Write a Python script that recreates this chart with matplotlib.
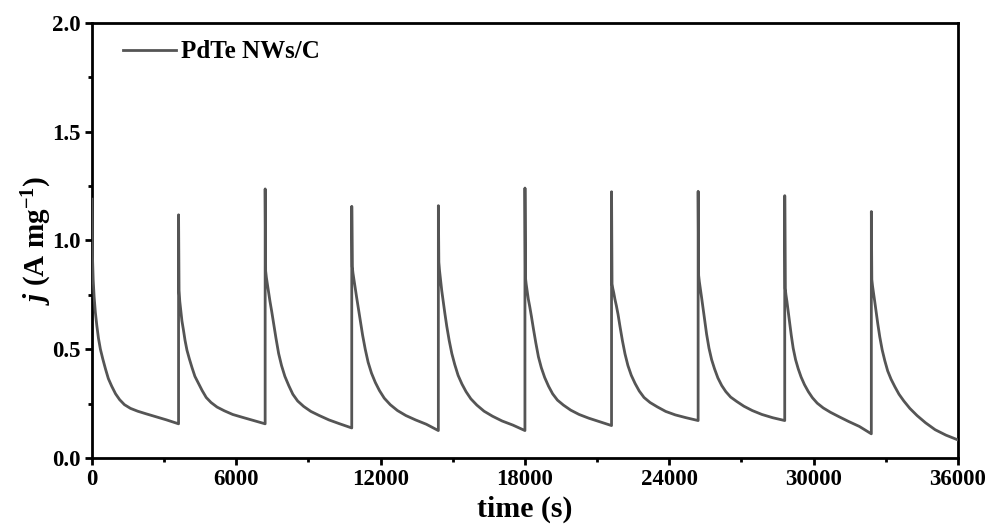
import numpy as np
import matplotlib
matplotlib.use("Agg")
import matplotlib.pyplot as plt
from matplotlib.ticker import MultipleLocator

# ---- data ----
cycle_starts = [0, 3600, 7200, 10800, 14400, 18000, 21600, 25200, 28800, 32400]
rel_t = [0, 20, 50, 90, 140, 200, 270, 350, 450, 560, 680, 820, 980, 1150,
         1350, 1600, 1900, 2250, 2650, 3100, 3599]

c1 = [1.190, 0.93, 0.82, 0.74, 0.67, 0.61, 0.55, 0.50, 0.455, 0.41, 0.365,
      0.33, 0.295, 0.268, 0.245, 0.228, 0.215, 0.203, 0.190, 0.175, 0.157]
c2 = [1.118, 0.77, 0.72, 0.68, 0.63, 0.59, 0.54, 0.495, 0.455, 0.415, 0.375,
      0.345, 0.31, 0.278, 0.255, 0.234, 0.217, 0.200, 0.187, 0.173, 0.157]
c3 = [1.237, 0.86, 0.83, 0.80, 0.76, 0.72, 0.675, 0.62, 0.55, 0.48, 0.425,
      0.375, 0.333, 0.293, 0.262, 0.237, 0.214, 0.195, 0.175, 0.157, 0.138]
c4 = [1.157, 0.88, 0.85, 0.82, 0.78, 0.74, 0.69, 0.635, 0.565, 0.50, 0.44,
      0.39, 0.347, 0.31, 0.275, 0.245, 0.218, 0.195, 0.175, 0.155, 0.126]
c5 = [1.160, 0.90, 0.86, 0.82, 0.77, 0.72, 0.665, 0.605, 0.54, 0.48, 0.43,
      0.38, 0.34, 0.305, 0.272, 0.243, 0.215, 0.192, 0.170, 0.151, 0.126]
c6 = [1.241, 0.83, 0.80, 0.77, 0.73, 0.695, 0.65, 0.595, 0.53, 0.465, 0.415,
      0.37, 0.33, 0.295, 0.266, 0.243, 0.220, 0.200, 0.183, 0.167, 0.149]
c7 = [1.224, 0.80, 0.78, 0.76, 0.73, 0.70, 0.66, 0.605, 0.54, 0.478, 0.425,
      0.38, 0.342, 0.308, 0.278, 0.255, 0.235, 0.214, 0.198, 0.185, 0.172]
c8 = [1.226, 0.84, 0.81, 0.78, 0.74, 0.69, 0.635, 0.57, 0.505, 0.452, 0.41,
      0.368, 0.333, 0.305, 0.28, 0.26, 0.238, 0.218, 0.200, 0.185, 0.172]
c9 = [1.206, 0.78, 0.75, 0.72, 0.675, 0.625, 0.565, 0.505, 0.452, 0.41, 0.372,
      0.337, 0.305, 0.277, 0.252, 0.23, 0.21, 0.19, 0.168, 0.145, 0.111]
c10 = [1.133, 0.82, 0.79, 0.76, 0.72, 0.67, 0.615, 0.557, 0.497, 0.447, 0.40,
       0.362, 0.327, 0.293, 0.262, 0.228, 0.195, 0.162, 0.130, 0.105, 0.083]
cycles = [c1, c2, c3, c4, c5, c6, c7, c8, c9, c10]

xticks = [0, 6000, 12000, 18000, 24000, 30000, 36000]
yticks = [0.0, 0.5, 1.0, 1.5, 2.0]

t_all = np.concatenate([np.array(rel_t) + s for s in cycle_starts])
j_all = np.concatenate([np.array(c) for c in cycles])

# ---- style ----
plt.rcParams['font.family'] = ['Liberation Serif', 'DejaVu Serif']
plt.rcParams['font.weight'] = 'bold'
plt.rcParams['mathtext.fontset'] = 'custom'
plt.rcParams['mathtext.rm'] = 'Liberation Serif:bold'
plt.rcParams['mathtext.it'] = 'Liberation Serif:bold:italic'
plt.rcParams['mathtext.bf'] = 'Liberation Serif:bold'

fig = plt.figure(figsize=(9.89, 5.27), dpi=100)
ax = fig.add_axes([0.093, 0.131, 0.8756, 0.8254])

ax.plot(t_all, j_all, color='#555555', lw=2.0, label='PdTe NWs/C',
        solid_joinstyle='round', zorder=3)

ax.set_xlim(0, 36000)
ax.set_ylim(0, 2.0)
ax.set_xticks(xticks)
ax.set_xticklabels([str(v) for v in xticks])
ax.set_yticks(yticks)
ax.set_yticklabels([f"{v:.1f}" for v in yticks])
ax.xaxis.set_minor_locator(MultipleLocator(3000))
ax.yaxis.set_minor_locator(MultipleLocator(0.25))

for s in ax.spines.values():
    s.set_linewidth(2.0)
ax.tick_params(which='major', direction='out', length=5, width=2.0, labelsize=16.5, pad=3)
ax.tick_params(which='minor', direction='out', length=3, width=2.0)
ax.tick_params(top=False, right=False, which='both')
for lab in ax.get_xticklabels() + ax.get_yticklabels():
    lab.set_fontweight('bold')

ax.set_xlabel('time (s)', fontsize=21.5, fontweight='bold', labelpad=4)
ax.set_ylabel(r'$j$ (A mg$^{-1}$)', fontsize=21, fontweight='bold', labelpad=-1)

leg = ax.legend(loc='upper left', frameon=False, fontsize=18, handlelength=2.1,
                handletextpad=0.2, borderaxespad=0.3, bbox_to_anchor=(0.016, 1.0))
for txt in leg.get_texts():
    txt.set_fontweight('bold')

fig.savefig('out.png', dpi=100)
